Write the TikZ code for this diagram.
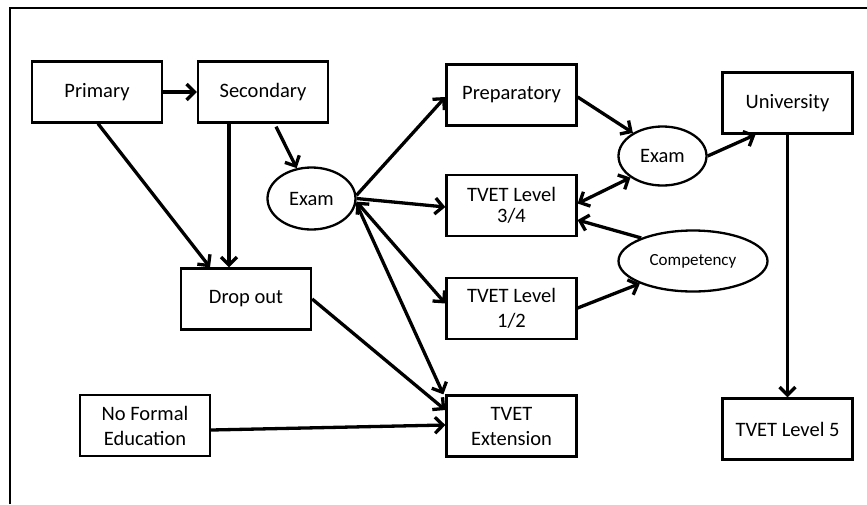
\documentclass[tikz,border=0pt]{standalone}
\usepackage{fontspec}
\setmainfont{Carlito}
\usetikzlibrary{arrows.meta,shapes.geometric}
\begin{document}
\begin{tikzpicture}[x=1pt,y=-1pt,
  box/.style={draw,line width=2.3pt,rectangle,minimum width=130pt,minimum height=61pt,inner sep=0pt,align=center,font=\fontsize{20.5}{25}\selectfont},
  oval/.style={draw,line width=2.3pt,ellipse,inner sep=0pt,font=\fontsize{20.5}{25}\selectfont},
  arr/.style={line width=3.3pt,-{Straight Barb[length=8pt,width=16pt]}},
  darr/.style={line width=3.3pt,{Straight Barb[length=8pt,width=16pt]}-{Straight Barb[length=8pt,width=16pt]}}]
\useasboundingbox (0,0) rectangle (867,504);
\draw[line width=2.3pt] (10,504) -- (10,8) -- (867,8);

\node[box] (prim) at (97,92) {Primary};
\node[box] (sec) at (263,92) {Secondary};
\node[box] (prep) at (511.5,95) {Preparatory};
\node[box,font=\fontsize{20.5}{21}\selectfont] (t34) at (511.5,205.5) {TVET Level\\3/4};
\node[box] (t12) at (511.5,308.5) {TVET Level\\1/2};
\node[box] (text) at (511.5,426) {TVET\\Extension};
\node[box] (univ) at (787.5,103) {University};
\node[box] (t5) at (787.5,429) {TVET Level 5};
\node[box] (drop) at (246,299) {Drop out};
\node[box] (nfe) at (145,425.5) {No Formal\\Education};
\node[oval,minimum width=88pt,minimum height=62pt] (ex1) at (311.5,198.5) {Exam};
\node[oval,minimum width=88pt,minimum height=59pt] (ex2) at (662.5,156) {Exam};
\node[oval,minimum width=149pt,minimum height=61pt,font=\fontsize{17}{20}\selectfont] (comp) at (693,261) {Competency};

\draw[arr] (prim.east) -- (sec.west);
\draw[arr] ([xshift=1pt]prim.south) -- ([xshift=-36pt]drop.north);
\draw[arr] ([xshift=-34pt]sec.south) -- ([xshift=-17pt]drop.north);
\draw[arr] ([xshift=13pt,yshift=-3pt]sec.south) -- (ex1.116);
\draw[arr] (ex1.4) -- ([yshift=-2pt]prep.west);
\draw[arr] (ex1.east) -- ([yshift=-1.5pt]t34.west);
\draw[darr] (ex1.-4) -- ([yshift=5pt]t12.west);
\draw[arr] (ex1.-6) -- ([xshift=-2pt]text.north west);
\draw[arr] (drop.east) -- ([yshift=16pt]text.west);
\draw[arr] ([yshift=-4.5pt]nfe.east) -- ([yshift=1pt]text.west);
\draw[arr] ([yshift=-2pt]prep.east) -- (ex2.142);
\draw[arr] (ex2.east) -- ([xshift=-32pt]univ.south);
\draw[darr] ([yshift=2pt]t34.east) -- (ex2.214);
\draw[arr] (comp.156) -- ([yshift=-14.5pt]t34.east);
\draw[arr] ([yshift=0.5pt]t12.east) -- (comp.203);
\draw[arr] (univ.south) -- (t5.north);
\end{tikzpicture}
\end{document}
